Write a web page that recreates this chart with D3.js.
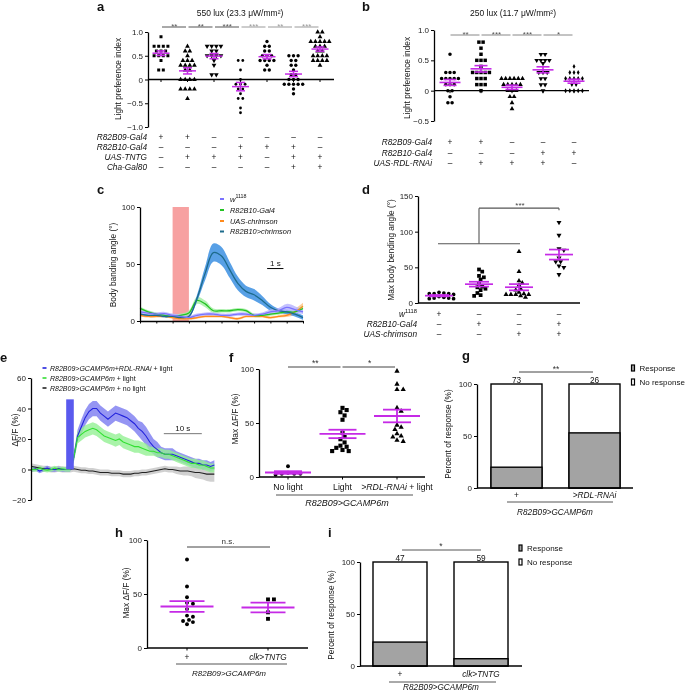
<!DOCTYPE html>
<html><head><meta charset="utf-8">
<script src="https://cdn.jsdelivr.net/npm/d3@7"></script>
<style>body{margin:0;background:#fff}svg{display:block;will-change:transform;opacity:0.999}</style>
</head><body><script>
// ================= DATA =================
// Panel a (550 lux)
const aTitle = "550 lux (23.3 \u03bcW/mm\u00b2)";
const aVals1 = [0.9,0.7,0.7,0.7,0.7,0.6,0.6,0.6,0.5,0.5,0.5,0.5,0.4,0.2,0.2];
const aVals2 = [0.7,0.6,0.6,0.5,0.4,0.4,0.4,0.3,0.3,0.3,0.3,0.2,0.2,0,0,0,0,-0.2,-0.2,-0.2,-0.2,-0.4];
const aVals3 = [0.7,0.7,0.7,0.7,0.6,0.6,0.5,0.5,0.5,0.5,0.4,0.3,0.1,0.1];
const aVals4 = [0.4,0.4,0.2,0,-0.1,-0.1,-0.1,-0.2,-0.2,-0.3,-0.4,-0.4,-0.6,-0.7];
const aVals5 = [0.8,0.7,0.7,0.6,0.6,0.5,0.5,0.5,0.4,0.4,0.4,0.4,0.3,0.2,0.2];
const aVals6 = [0.5,0.5,0.5,0.4,0.4,0.3,0.3,0.2,0.1,0.1,0,0,0,-0.1,-0.1,-0.1,-0.1,-0.1,-0.2,-0.3];
const aVals7 = [1.0,1.0,0.9,0.8,0.8,0.8,0.8,0.8,0.7,0.7,0.7,0.6,0.6,0.5,0.5,0.5,0.5,0.4,0.4,0.4,0.4,0.3];
const aSig = ["**","**","***","***","**","***"];
const aTicks = [-1,-0.5,0,0.5,1];
const aRowLabels = ["R82B09-Gal4","R82B10-Gal4","UAS-TNTG","Cha-Gal80"];
const aRow1 = ["+","+","\u2013","\u2013","\u2013","\u2013","\u2013"];
const aRow2 = ["\u2013","\u2013","\u2013","+","+","+","\u2013"];
const aRow3 = ["\u2013","+","+","+","\u2013","+","+"];
const aRow4 = ["\u2013","\u2013","\u2013","\u2013","\u2013","+","+"];

// Panel b (250 lux)
const bTitle = "250 lux (11.7 \u03bcW/mm\u00b2)";
const bVals1 = [0.6,0.3,0.3,0.3,0.2,0.2,0.2,0.2,0.2,0.1,0.1,0.1,0,0,-0.1,-0.2,-0.2];
const bVals2 = [0.8,0.8,0.7,0.6,0.5,0.5,0.5,0.4,0.3,0.3,0.3,0.3,0.3,0.2,0.2,0.2,0.1,0.1,0.1,0];
const bVals3 = [0.2,0.2,0.2,0.2,0.2,0.2,0.1,0.1,0.1,0.1,0.1,0,0,0,-0.1,-0.1,-0.2,-0.3];
const bVals4 = [0.6,0.6,0.5,0.5,0.5,0.5,0.45,0.3,0.3,0.3,0.2,0.2,0.1,0.1,0];
const bVals5 = [0.4,0.3,0.3,0.3,0.2,0.2,0.2,0.2,0.2,0.1,0.1,0,0,0,0,0];
const bSig = ["**","***","***","*"];
const bTicks = [-0.5,0,0.5,1];
const bRowLabels = ["R82B09-Gal4","R82B10-Gal4","UAS-RDL-RNAi"];
const bRow1 = ["+","+","\u2013","\u2013","\u2013"];
const bRow2 = ["\u2013","\u2013","\u2013","+","+"];
const bRow3 = ["\u2013","+","+","+","\u2013"];

// Panel c (time course, s)
const cTime = [0,0.5,1,1.5,2,2.5,3,3.5,4,4.5,5,5.5,6,6.5,7,7.5,8,8.5,9,9.5,10];
const cW1118  = [8,7,6,6.5,5,4,3,5,6,6,5,5,6,6,5,6,8,9,12,10,8];
const cW1118E = [1.5,1.5,1.5,1.5,1.5,1.5,1.5,1.5,1.5,1.5,1.5,1.5,1.5,1.5,1.5,1.5,2,2.5,3,3,2];
const cGal4   = [11,8,6,5,4,5,7,18,15,9,9,9,10,9,5,5,6,7,8,8,11];
const cGal4E  = [1.5,1.5,1.5,1.5,1.5,1.5,2,3,3,2,1.5,1.5,1.5,1.5,1.5,1.5,1.5,1.5,1.5,2,2.5];
const cUAS    = [5,4,4,4,3,2,2,3,4,4,4,3,2,4,4,4,3,4,5,8,13];
const cUASE   = [1,1,1,1,1,1,1,1,1,1,1,1,1,1,1,1,1,1,1.5,2.5,3];
const cChr    = [6,5,5,4,4,3,4,20,42,60,57,45,33,26,23,18,12,9,8,6,3];
const cChrE   = [1,1,1,1,1,1,1,3,6,8,8,7,6,5,5,4,3,2,2,2,2];
const cStim = [2,3];
const cScaleBar = [7.8,8.8,46];
const cTicks = [0,50,100];
const cLegend = ["R82B10-Gal4","UAS-chrimson","R82B10>chrimson"];

// Panel d
const dVals1 = [15,14,13,13,13,12,9,8,7,7,6,6];
const dVals2 = [47,44,38,36,33,27,23,22,20,18,14,11,10];
const dVals3 = [72,44,31,28,25,20,18,15,13,12,12,12,12,10,8];
const dVals4 = [113,95,76,74,63,58,58,52,50,40];
const dTicks = [0,50,100,150];
const dBracket = [83,133];
const dRow1 = ["+","\u2013","\u2013","\u2013"];
const dRow2 = ["\u2013","+","\u2013","+"];
const dRow3 = ["\u2013","\u2013","+","+"];

// Panel e (time course, s)
const eTime = d3.range(0,49,1);
const eRDL  = [0,0.5,-1,0,1,0,0,0.5,0,0,0,8,22,28,34,38,40,40,37,35,33,35,37,36,35,34,32,30,27,25,22,18,15,13,11,10,10,10,9,8,7,6,5,4,4,3,3,2,3];
const eRDLE = [1.5,1.5,1.5,1.5,1.5,1.5,1.5,1.5,1.5,1.5,1.5,3,4,5,5,5,5,5,5,5,5,5,5,5,5,5,5,5,5,6,6,6,5,5,4,4,4,4,3,3,3,3,3,3,3,3,3,3,3];
const eLight  = [0,0,1,0,-0.5,0,1,0,0.5,0,0,8,21,23,25,26,27,26,24,22,21,20,19,20,18,17,16,15,15,14,13,12,12,11,11,10,10,9,8,7,6,5,4,4,3,3,2,1,1];
const eLightE = [1.5,1.5,1.5,1.5,1.5,1.5,1.5,1.5,1.5,1.5,1.5,3,4,4,4,4,4,4,4,4,4,4,4,4,4,4,4,4,4,4,4,3,3,3,3,3,3,3,3,3,3,3,3,3,3,3,3,3,3];
const eDark  = [2,1.5,1,0.5,0.5,0,0,0.5,0,0,0,0.5,0,-0.5,-0.5,-1,-1,-1.5,-2,-2,-2,-2.5,-2.5,-2.5,-3,-3,-3,-2.5,-2.5,-2,-2,-1.5,-1,-0.5,0,0.5,0,0,-0.5,-1,-1,-1,-1.5,-2,-2,-2.5,-3,-3,-3];
const eDarkE = [2,2,2,2,2,2,2,2,2,2,2,2,2,2,2,2,2,2,2,2,2,2,2,2,2,2,2,2,2,2,2,2,2,2,2,2,2,2,2.5,2.5,3,3,3,3.5,4,4,4.5,5,5];
const eStim = [9,11,46];
const eScaleBar = [34.7,44.7,23.5];
const eTicks = [-20,0,20,40,60];
const eLegend = ["R82B09>GCAMP6m+RDL-RNAi","R82B09>GCAMP6m","R82B09>GCAMP6m"];
const eLegendSuffix = [" + light","  + light","  + no light"];

// Panel f
const fCats = ["No light","Light",">RDL-RNAi"];
const fVals1 = [10,4,3,3,3,2];
const fVals2 = [64,62,60,57,53,41,37,35,32,29,28,27,25,24,24];
const fVals3 = [98,86,81,81,64,61,48,46,44,40,38,37,34,33];
const fSig = ["**","*"];
const fTicks = [0,50,100];

// Panel g
const gCats = ["+",">RDL-RNAi"];
const gResponse = [20,53];
const gN = ["73","26"];
const gTicks = [0,50,100];

// Panel h
const hCats = ["+","clk>TNTG"];
const hVals1 = [82,57,47,42,41,36,30,29,26,25,24,22];
const hVals2 = [45,45,33,27];
const hTicks = [0,50,100];

// Panel i
const iCats = ["+","clk>TNTG"];
const iResponse = [23,7];
const iN = ["47","59"];
const iTicks = [0,50,100];

// ================= DRAWING =================
const FONT = "'Liberation Sans', Arial, Helvetica, sans-serif";
const MAG = "#c52ae6";
const svg = d3.select("body").append("svg").attr("width",685).attr("height",691)
  .attr("font-family",FONT);

function T(x,y,s,o={}){
  const t = svg.append("text").attr("x",x).attr("y",y).text(s)
    .attr("font-size",o.size||8).attr("fill",o.fill||"#111")
    .attr("text-anchor",o.anchor||"start");
  if(o.italic) t.attr("font-style","italic");
  if(o.bold) t.attr("font-weight","bold");
  if(o.rot) t.attr("transform",`rotate(-90,${x},${y})`);
  return t;
}
function rich(x,y,parts,o={}){
  const size=o.size||8;
  const t = svg.append("text").attr("x",x).attr("y",y)
    .attr("font-size",size).attr("text-anchor",o.anchor||"start").attr("fill","#111");
  if(o.rot) t.attr("transform",`rotate(-90,${x},${y})`);
  let shifted=false;
  parts.forEach(p=>{
    const sp=t.append("tspan").text(p.t);
    if(p.i) sp.attr("font-style","italic");
    if(p.sup){ sp.attr("font-size",size*0.7).attr("dy",-size*0.4); shifted=true; }
    else if(shifted){ sp.attr("dy",size*0.4); shifted=false; }
  });
  return t;
}
function yAxis(x,y,ticks,fmt){
  const g = svg.append("g").attr("transform",`translate(${x},0)`)
    .call(d3.axisLeft(y).tickValues(ticks).tickFormat(fmt).tickSizeInner(3).tickSizeOuter(0).tickPadding(2));
  g.select(".domain").attr("stroke","#000").attr("stroke-width",1.3);
  g.selectAll(".tick line").attr("stroke","#000").attr("stroke-width",1);
  g.selectAll("text").attr("font-family",FONT).attr("font-size",8).attr("fill","#222");
  return g;
}
function hline(x1,x2,y,color,w){
  svg.append("line").attr("x1",x1).attr("x2",x2).attr("y1",y).attr("y2",y)
    .attr("stroke",color||"#000").attr("stroke-width",w||1);
}
function vline(x,y1,y2,color,w){
  svg.append("line").attr("x1",x).attr("x2",x).attr("y1",y1).attr("y2",y2)
    .attr("stroke",color||"#000").attr("stroke-width",w||1);
}
function place(vals,y,cx,sp,mode){
  const out=[];
  if(mode==="rows"){
    d3.groups(vals,v=>v).forEach(([v,arr])=>arr.forEach((_,k)=>out.push({x:cx+(k-(arr.length-1)/2)*sp,y:y(v)})));
  } else {
    [...vals].sort((a,b)=>b-a).forEach(v=>{
      const py=y(v);
      for(let k=0;k<200;k++){
        const off=k===0?0:(k%2?1:-1)*Math.ceil(k/2)*sp*0.45;
        const px=cx+off;
        if(out.every(p=>(p.x-px)**2+(p.y-py)**2>=sp*sp)){out.push({x:px,y:py});break;}
      }
    });
  }
  return out;
}
function dots(cfg){
  const {y,cx,groups,syms,size,sp,mode,mw,cw,lw}=cfg;
  groups.forEach((vals,gi)=>{
    const x=cx(gi);
    const pts=place(vals,y,x,sp,mode);
    const s=syms[gi];
    svg.append("g").selectAll("path").data(pts).join("path")
      .attr("transform",d=>`translate(${d.x},${d.y})${s.rot?" rotate(180)":""}`)
      .attr("d",d3.symbol().type(s.type).size(s.size||size)).attr("fill","#000");
    const m=d3.mean(vals), se=d3.deviation(vals)/Math.sqrt(vals.length);
    const g=svg.append("g").attr("stroke",MAG).attr("stroke-width",lw||1.5);
    g.append("line").attr("x1",x-mw/2).attr("x2",x+mw/2).attr("y1",y(m)).attr("y2",y(m));
    g.append("line").attr("x1",x).attr("x2",x).attr("y1",y(m-se)).attr("y2",y(m+se));
    [m-se,m+se].forEach(v=>g.append("line").attr("x1",x-cw/2).attr("x2",x+cw/2).attr("y1",y(v)).attr("y2",y(v)));
  });
}
function catTicks(cx,n,y0,len){ for(let i=0;i<n;i++) vline(cx(i),y0,y0+len,"#000",1); }
const fmt1 = v=> v===0?"0":d3.format(".1f")(v);
const fmt0 = d3.format("d");

// ---------- Panel a ----------
T(97,11,"a",{size:13,bold:true});
T(240,16,aTitle,{anchor:"middle",size:8.5});
{
  const y=d3.scaleLinear().domain([-1,1]).range([127,32]);
  const cx=d3.scalePoint().domain(d3.range(7)).range([161,320]);
  yAxis(148,y,aTicks,fmt1);
  hline(148,334,y(0),"#000",1.3);
  catTicks(cx,7,y(0),2.5);
  T(121,79,"Light preference index",{anchor:"middle",rot:true,size:8.3});
  dots({y,cx,groups:[aVals1,aVals2,aVals3,aVals4,aVals5,aVals6,aVals7],
        syms:[{type:d3.symbolSquare},{type:d3.symbolTriangle,size:10},{type:d3.symbolTriangle,size:10,rot:true},{type:d3.symbolCircle,size:6},{type:d3.symbolCircle,size:9},{type:d3.symbolCircle,size:9},{type:d3.symbolTriangle,size:10}],
        size:9,sp:4.6,mode:"rows",mw:17,cw:9,lw:1.5});
  aSig.forEach((s,i)=>{
    const col=i<3?"#555":"#9a9a9a";
    hline(cx(i)+1,cx(i+1)-1.5,27,col,1);
    T((cx(i)+cx(i+1))/2,28.5,s,{anchor:"middle",size:8,fill:col});
  });
  const rows=[aRow1,aRow2,aRow3,aRow4], bl=[140,149.5,160,170];
  aRowLabels.forEach((l,r)=>{
    T(147,bl[r],l,{anchor:"end",italic:true,size:8.3});
    rows[r].forEach((s,c)=>T(cx(c),bl[r],s,{anchor:"middle",size:8.3}));
  });
}

// ---------- Panel b ----------
T(362,11,"b",{size:13,bold:true});
T(513,16,bTitle,{anchor:"middle",size:8.5});
{
  const y=d3.scaleLinear().domain([-0.5,1]).range([121,30]);
  const cx=d3.scalePoint().domain(d3.range(5)).range([450,574]);
  yAxis(434,y,bTicks,fmt1);
  hline(434,589,y(0),"#000",1.3);
  catTicks(cx,5,y(0),2.5);
  T(410,78,"Light preference index",{anchor:"middle",rot:true,size:8.3});
  dots({y,cx,groups:[bVals1,bVals2,bVals3,bVals4,bVals5],
        syms:[{type:d3.symbolCircle,size:10},{type:d3.symbolSquare,size:12},{type:d3.symbolTriangle,size:10},{type:d3.symbolTriangle,size:10,rot:true},{type:d3.symbolDiamond,size:7}],
        size:10,sp:4.2,mode:"rows",mw:21,cw:13,lw:1.6});
  bSig.forEach((s,i)=>{
    hline(cx(i)+0.5,cx(i+1)-1.5,35,"#888",1);
    T((cx(i)+cx(i+1))/2,36.5,s,{anchor:"middle",size:8,fill:"#555"});
  });
  const rows=[bRow1,bRow2,bRow3], bl=[145,155.5,166];
  bRowLabels.forEach((l,r)=>{
    T(432,bl[r],l,{anchor:"end",italic:true,size:8.3});
    rows[r].forEach((s,c)=>T(cx(c),bl[r],s,{anchor:"middle",size:8.3}));
  });
}

// ---------- Panel c ----------
T(97,194,"c",{size:13,bold:true});
{
  const x=d3.scaleLinear().domain([0,10]).range([140,303]);
  const y=d3.scaleLinear().domain([0,100]).range([321,207]);
  svg.append("rect").attr("x",x(cStim[0])).attr("width",x(cStim[1])-x(cStim[0]))
    .attr("y",y(100)).attr("height",y(0)-y(100)).attr("fill","#f7a1a1");
  const series=[
    {v:cUAS,e:cUASE,line:"#ff8a1c",band:"#ffc48a"},
    {v:cGal4,e:cGal4E,line:"#22c322",band:"#a6eea6"},
    {v:cChr,e:cChrE,line:"#1d6b8c",band:"#3b8fe2"},
    {v:cW1118,e:cW1118E,line:"#7a72ff",band:"#b9b5ff"}];
  const curve=d3.curveCatmullRom.alpha(0.5);
  series.forEach(s=>{
    svg.append("path").datum(cTime.map((t,i)=>[t,s.v[i],s.e[i]]))
      .attr("d",d3.area().curve(curve).x(d=>x(d[0])).y0(d=>y(Math.max(0,d[1]-d[2]))).y1(d=>y(d[1]+d[2])))
      .attr("fill",s.band).attr("opacity",0.85);
  });
  series.forEach(s=>{
    svg.append("path").datum(cTime.map((t,i)=>[t,s.v[i]]))
      .attr("d",d3.line().curve(curve).x(d=>x(d[0])).y(d=>y(d[1])))
      .attr("fill","none").attr("stroke",s.line).attr("stroke-width",1.3);
  });
  yAxis(140,y,cTicks,fmt0);
  const gx=svg.append("g").attr("transform",`translate(0,${y(0)})`)
    .call(d3.axisBottom(x).tickValues(d3.range(0,11)).tickFormat("").tickSizeInner(2.5).tickSizeOuter(0));
  gx.select(".domain").attr("stroke-width",1.3);
  T(116,265,"Body banding angle (\u00b0)",{anchor:"middle",rot:true,size:8.3});
  hline(x(cScaleBar[0]),x(cScaleBar[1]),y(cScaleBar[2]),"#000",1);
  T((x(cScaleBar[0])+x(cScaleBar[1]))/2,y(cScaleBar[2])-3,"1 s",{anchor:"middle",size:8});
  const cols=["#7a72ff","#22c322","#ff8a1c","#1d6b8c"], ly=[199,210,221,231.5];
  cols.forEach((c,i)=>hline(220,224,ly[i],c,2));
  rich(230,ly[0]+2.5,[{t:"w",i:true},{t:"1118",sup:true}],{size:7.6});
  cLegend.forEach((s,i)=>T(230,ly[i+1]+2.5,s,{italic:true,size:7.4}));
}

// ---------- Panel d ----------
T(362,194,"d",{size:13,bold:true});
{
  const y=d3.scaleLinear().domain([0,150]).range([303,196]);
  const cx=d3.scalePoint().domain(d3.range(4)).range([439,559]);
  yAxis(418,y,dTicks,fmt0);
  hline(418,580,y(0),"#000",1.3);
  T(394,250,"Max body bending angle (\u00b0)",{anchor:"middle",rot:true,size:8.3});
  dots({y,cx,groups:[dVals1,dVals2,dVals3,dVals4],
        syms:[{type:d3.symbolCircle,size:11},{type:d3.symbolSquare,size:14},{type:d3.symbolTriangle,size:11},{type:d3.symbolTriangle,size:11,rot:true}],
        size:12,sp:3.6,mode:"swarm",mw:28,cw:20,lw:1.7});
  const mid=(cx(0)+cx(2))/2;
  hline(cx(0)-1,cx(2)+1,y(dBracket[0]),"#555",1.1);
  vline(mid,y(dBracket[0]),y(dBracket[1]),"#555",1.1);
  hline(mid,cx(3),y(dBracket[1]),"#555",1.1);
  vline(cx(3),y(dBracket[1]),y(dBracket[1])+2,"#555",1.1);
  T((mid+cx(3))/2+1,y(dBracket[1]),"***",{anchor:"middle",size:8,fill:"#444"});
  const rows=[dRow1,dRow2,dRow3], bl=[316.5,326.5,337];
  rich(417,bl[0],[{t:"w",i:true},{t:"1118",sup:true}],{anchor:"end",size:8.3});
  T(417,bl[1],"R82B10-Gal4",{anchor:"end",italic:true,size:8.3});
  T(417,bl[2],"UAS-chrimson",{anchor:"end",italic:true,size:8.3});
  rows.forEach((row,r)=>row.forEach((s,c)=>T(cx(c),bl[r],s,{anchor:"middle",size:8.3})));
}

// ---------- Panel e ----------
T(0,362,"e",{size:13,bold:true});
{
  const x=d3.scaleLinear().domain([0,48.7]).range([32,217]);
  const y=d3.scaleLinear().domain([-20,60]).range([500,378]);
  const series=[
    {v:eDark,e:eDarkE,line:"#222",band:"#c4c4c4"},
    {v:eRDL,e:eRDLE,line:"#2323dd",band:"#7b7bf0"},
    {v:eLight,e:eLightE,line:"#33e033",band:"#94f094"}];
  series.forEach(s=>{
    svg.append("path").datum(eTime.map((t,i)=>[t,s.v[i],s.e[i]]))
      .attr("d",d3.area().x(d=>x(d[0])).y0(d=>y(d[1]-d[2])).y1(d=>y(d[1]+d[2])))
      .attr("fill",s.band).attr("opacity",0.8);
  });
  series.forEach(s=>{
    svg.append("path").datum(eTime.map((t,i)=>[t,s.v[i]]))
      .attr("d",d3.line().x(d=>x(d[0])).y(d=>y(d[1])))
      .attr("fill","none").attr("stroke",s.line).attr("stroke-width",1.1);
  });
  svg.append("rect").attr("x",x(eStim[0])).attr("width",x(eStim[1])-x(eStim[0]))
    .attr("y",y(eStim[2])).attr("height",y(0)-y(eStim[2])).attr("fill","#5a5aee");
  yAxis(31,y,eTicks,fmt0);
  T(18,430,"\u0394F/F (%)",{anchor:"middle",rot:true,size:8.3});
  hline(x(eScaleBar[0]),x(eScaleBar[1]),y(eScaleBar[2]),"#777",1);
  T((x(eScaleBar[0])+x(eScaleBar[1]))/2,y(eScaleBar[2])-3,"10 s",{anchor:"middle",size:8});
  const cols=["#2323dd","#33dd33","#222"], ly=[368,378,388];
  cols.forEach((c,i)=>{
    hline(42.5,46.5,ly[i],c,1.6);
    rich(50,ly[i]+2.5,[{t:eLegend[i],i:true},{t:eLegendSuffix[i]}],{size:7});
  });
}

// ---------- Panel f ----------
T(229,362,"f",{size:13,bold:true});
{
  const y=d3.scaleLinear().domain([0,100]).range([477,369]);
  const cx=d3.scalePoint().domain(d3.range(3)).range([288,397]);
  yAxis(259,y,fTicks,fmt0);
  hline(259,425,y(0),"#000",1.3);
  catTicks(cx,3,y(0),2.5);
  T(238,419,"Max \u0394F/F (%)",{anchor:"middle",rot:true,size:8.3});
  dots({y,cx,groups:[fVals1,fVals2,fVals3],
        syms:[{type:d3.symbolCircle,size:12},{type:d3.symbolSquare,size:17},{type:d3.symbolTriangle,size:12}],
        size:14,sp:4.6,mode:"swarm",mw:46,cw:28,lw:1.8});
  fSig.forEach((s,i)=>{
    hline(cx(i),cx(i+1)-2,367,"#444",1);
    T((cx(i)+cx(i+1))/2,366,s,{anchor:"middle",size:8.5,fill:"#333"});
  });
  T(cx(0),490,fCats[0],{anchor:"middle",size:8.7});
  T(cx(1),490,fCats[1],{anchor:"middle",size:8.7});
  rich(cx(2),490,[{t:fCats[2],i:true},{t:" + light"}],{anchor:"middle",size:8.7});
  hline(276,413,495,"#555",1);
  T(347,506,"R82B09>GCAMP6m",{anchor:"middle",italic:true,size:9});
}

// ---------- Panel g ----------
T(462,360,"g",{size:13,bold:true});
function bars(cfg){
  const {y,cx,resp,ns,w}=cfg;
  resp.forEach((r,i)=>{
    const x=cx(i)-w/2;
    svg.append("rect").attr("x",x).attr("width",w).attr("y",y(100)).attr("height",y(0)-y(100))
      .attr("fill","#fff").attr("stroke","#000").attr("stroke-width",1.4);
    svg.append("rect").attr("x",x).attr("width",w).attr("y",y(r)).attr("height",y(0)-y(r))
      .attr("fill","#a3a3a3").attr("stroke","#000").attr("stroke-width",1.4);
    T(cx(i),y(100)-1.5,ns[i],{anchor:"middle",size:8.3});
  });
}
function legendBox(x,yc,fill,label){
  svg.append("rect").attr("x",x).attr("y",yc-3).attr("width",3).attr("height",6)
    .attr("fill",fill).attr("stroke","#000").attr("stroke-width",1.2);
  T(x+8,yc+3,label,{size:8});
}
{
  const y=d3.scaleLinear().domain([0,100]).range([488,384]);
  const cx=d3.scalePoint().domain(d3.range(2)).range([516.5,594.5]);
  bars({y,cx,resp:gResponse,ns:gN,w:51});
  yAxis(477,y,gTicks,fmt0);
  hline(477,633,y(0),"#000",1.3);
  T(451,434,"Percent of response (%)",{anchor:"middle",rot:true,size:8.3});
  hline(519,593,372,"#444",1);
  T(556,372,"**",{anchor:"middle",size:8.5,fill:"#333"});
  legendBox(631.5,368,"#a3a3a3","Response");
  legendBox(631.5,382,"#fff","No response");
  T(cx(0),498,gCats[0],{anchor:"middle",size:8.3});
  T(cx(1),498,gCats[1],{anchor:"middle",italic:true,size:8.3});
  hline(507,613,502,"#555",1);
  T(555,515,"R82B09>GCAMP6m",{anchor:"middle",italic:true,size:8.2});
}

// ---------- Panel h ----------
T(115,537,"h",{size:13,bold:true});
{
  const y=d3.scaleLinear().domain([0,100]).range([648,540]);
  const cx=d3.scalePoint().domain(d3.range(2)).range([187,268]);
  yAxis(147,y,hTicks,fmt0);
  hline(147,308,y(0),"#000",1.3);
  catTicks(cx,2,y(0),2.5);
  T(129,593,"Max \u0394F/F (%)",{anchor:"middle",rot:true,size:8.3});
  dots({y,cx,groups:[hVals1,hVals2],
        syms:[{type:d3.symbolCircle,size:12},{type:d3.symbolSquare,size:15}],
        size:12,sp:4.4,mode:"swarm",mw:53,cw:35,lw:1.8});
  hline(187,270,547,"#444",1);
  T(228,544,"n.s.",{anchor:"middle",size:8,fill:"#333"});
  T(cx(0),660,hCats[0],{anchor:"middle",size:8.3});
  T(cx(1),660,hCats[1],{anchor:"middle",italic:true,size:8.3});
  hline(176,287,664,"#555",1);
  T(229,676,"R82B09>GCAMP6m",{anchor:"middle",italic:true,size:8});
}

// ---------- Panel i ----------
T(328,537,"i",{size:13,bold:true});
{
  const y=d3.scaleLinear().domain([0,100]).range([666,562]);
  const cx=d3.scalePoint().domain(d3.range(2)).range([400,481]);
  bars({y,cx,resp:iResponse,ns:iN,w:54});
  yAxis(360,y,iTicks,fmt0);
  hline(360,522,y(0),"#000",1.3);
  T(334,615,"Percent of response (%)",{anchor:"middle",rot:true,size:8.3});
  hline(402,481,550,"#555",1);
  T(441,549,"*",{anchor:"middle",size:8.5,fill:"#333"});
  legendBox(519,548,"#a3a3a3","Response");
  legendBox(519,562,"#fff","No response");
  T(cx(0),677,iCats[0],{anchor:"middle",size:8.3});
  T(cx(1),677,iCats[1],{anchor:"middle",italic:true,size:8.3});
  hline(389,496,682,"#555",1);
  T(441,690,"R82B09>GCAMP6m",{anchor:"middle",italic:true,size:8.2});
}
</script></body></html>
